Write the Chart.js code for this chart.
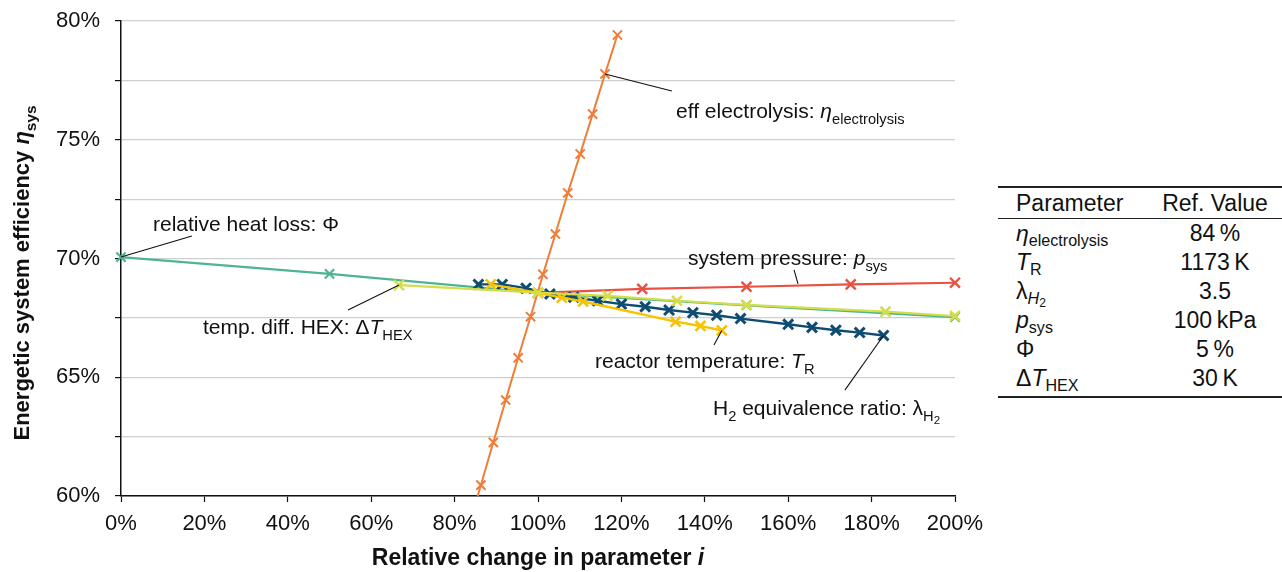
<!DOCTYPE html>
<html>
<head>
<meta charset="utf-8">
<script src="https://cdn.jsdelivr.net/npm/chart.js@4.4.1/dist/chart.umd.min.js"></script>
<style>
  html, body { margin: 0; padding: 0; background: #fff; }
  body { width: 1282px; height: 572px; position: relative; overflow: hidden; font-family: 'Liberation Sans', Arial, sans-serif; color: #111; }
  #wrap { position: absolute; left: 0; top: 0; width: 990px; height: 572px; }
  #ref { position: absolute; left: 998px; top: 186px; width: 284px; border-collapse: collapse; font-size: 23px;
         border-top: 2px solid #222; border-bottom: 2px solid #222; }
  #ref th { font-weight: normal; height: 30px; padding: 0; border-bottom: 1px solid #222; }
  #ref td { height: 29px; padding: 0; line-height: 29px; }
  #ref tr:last-child td { padding-bottom: 3px; }
  #ref .p { text-align: left; padding-left: 18px; width: 132px; }
  #ref .v { text-align: center; }
  #ref sub { font-size: 0.7em; vertical-align: -0.3em; line-height: 0; }
  #ref sub sub { font-size: 0.75em; vertical-align: -0.25em; }
</style>
</head>
<body>
<div id="wrap"><canvas id="chart"></canvas></div>
<table id="ref"></table>
<script>
// values (x: relative change in %, y: efficiency in %)
const effX = [83.33, 86.31, 89.29, 92.26, 95.24, 98.21, 101.19, 104.17, 107.14, 110.12, 113.10, 116.07, 119.05];
const effY = [58.68, 60.46, 62.26, 64.04, 65.82, 67.55, 69.33, 71.03, 72.76, 74.40, 76.08, 77.77, 79.41];

const tempX = [88.66, 100, 105.71, 110.83, 132.99, 138.96, 144.08];
const tempY = [68.91, 68.55, 68.35, 68.19, 67.34, 67.16, 66.97];

const lambdaX = [85.71, 91.43, 97.14, 102.86, 108.57, 114.29, 120, 125.71, 131.43, 137.14, 142.86, 148.57, 160, 165.71, 171.43, 177.14, 182.86];
const lambdaY = [68.91, 68.91, 68.75, 68.51, 68.37, 68.22, 68.08, 67.97, 67.83, 67.72, 67.61, 67.47, 67.23, 67.10, 66.98, 66.88, 66.76];

const pressX = [100, 125, 150, 175, 200];
const pressY = [68.55, 68.72, 68.81, 68.91, 68.98];

const lossX = [0, 50, 100, 150, 200];
const lossY = [70.06, 69.35, 68.55, 68.03, 67.53];

const hexX = [66.67, 100, 116.67, 133.33, 150, 183.33, 200];
const hexY = [68.88, 68.56, 68.43, 68.22, 68.05, 67.76, 67.58];

// reference table
const tableParams = ['<i>η</i><sub>electrolysis</sub>', '<i>T</i><sub>R</sub>', 'λ<sub><i>H</i><sub>2</sub></sub>',
                     '<i>p</i><sub>sys</sub>', 'Φ', 'Δ<i>T</i><sub>HEX</sub>'];
const tableValues = ['84\u2009%', '1173\u2009K', '3.5', '100\u2009kPa', '5\u2009%', '30\u2009K'];

const FAM = "'Liberation Sans', Arial, sans-serif";

const pts = (xs, ys) => xs.map((x, i) => ({ x: x, y: ys[i] }));

// table
let html = '<thead><tr><th class="p">Parameter</th><th class="v">Ref. Value</th></tr></thead><tbody>';
tableParams.forEach((p, i) => { html += `<tr><td class="p">${p}</td><td class="v">${tableValues[i]}</td></tr>`; });
document.getElementById('ref').innerHTML = html + '</tbody>';

// rich text: runs of [text, style] — style: '' normal, 'i' italic, 's' sub, 'si' italic sub, 'ss' sub-sub
function drawRich(ctx, runs, x, y, size, bold, align) {
  const fontOf = st => {
    const lvl = st.includes('ss') ? 2 : st.includes('s') ? 1 : 0;
    const s = size * [1, 0.7, 0.55][lvl];
    return { font: `${st.includes('i') ? 'italic ' : ''}${bold ? 'bold ' : ''}${s}px ${FAM}`, dy: [0, 0.3, 0.45][lvl] * size };
  };
  let w = 0;
  runs.forEach(r => { ctx.font = fontOf(r[1] || '').font; w += ctx.measureText(r[0]).width; });
  let cx = align === 'center' ? x - w / 2 : x;
  ctx.textAlign = 'left';
  ctx.textBaseline = 'alphabetic';
  runs.forEach(r => {
    const f = fontOf(r[1] || '');
    ctx.font = f.font;
    ctx.fillText(r[0], cx, y + f.dy);
    cx += ctx.measureText(r[0]).width;
  });
}

// callouts: dataset index + point index, leader end and text position in data units
const notes = [
  { ds: 1, pt: 11, end: [132.1, 77.05], at: [133.1, 75.92],
    runs: [['eff electrolysis: '], ['η', 'i'], ['electrolysis', 's']] },
  { ds: 5, pt: 0, end: [17.0, 70.95], at: [7.67, 71.15],
    runs: [['relative heat loss: Φ']] },
  { ds: 4, pt: null, from: [162.35, 68.93], end: [161.4, 69.52], at: [135.97, 69.73],
    runs: [['system pressure: '], ['p', 'i'], ['sys', 's']] },
  { ds: 0, pt: 0, end: [54.44, 67.83], at: [19.66, 66.82],
    runs: [['temp. diff. HEX: Δ'], ['T', 'i'], ['HEX', 's']] },
  { ds: 2, pt: 6, end: [142.2, 66.36], at: [113.67, 65.39],
    runs: [['reactor temperature: '], ['T', 'i'], ['R', 's']] },
  { ds: 3, pt: 16, end: [173.6, 64.46], at: [141.97, 63.41],
    runs: [['H'], ['2', 's'], [' equivalence ratio: λ'], ['H', 's'], ['2', 'ss']] }
];

const overlay = {
  id: 'overlay',
  afterDraw(chart) {
    const { ctx, scales: { x, y } } = chart;
    ctx.save();
    ctx.fillStyle = '#111';
    ctx.strokeStyle = '#111';
    ctx.lineWidth = 1.1;
    notes.forEach(n => {
      const from = n.pt === null ? n.from : [chart.data.datasets[n.ds].data[n.pt].x, chart.data.datasets[n.ds].data[n.pt].y];
      ctx.beginPath();
      ctx.moveTo(x.getPixelForValue(from[0]), y.getPixelForValue(from[1]));
      ctx.lineTo(x.getPixelForValue(n.end[0]), y.getPixelForValue(n.end[1]));
      ctx.stroke();
      drawRich(ctx, n.runs, x.getPixelForValue(n.at[0]), y.getPixelForValue(n.at[1]), 21, false, 'left');
    });

    // axis titles
    drawRich(ctx, [['Relative change in parameter '], ['i', 'i']], (x.left + x.right) / 2, 565, 23, true, 'center');
    ctx.translate(29, 273);
    ctx.rotate(-Math.PI / 2);
    drawRich(ctx, [['Energetic system efficiency '], ['η', 'i'], ['sys', 's']], 0, 0, 22, true, 'center');
    ctx.restore();
  }
};

const line = (label, data, color, width, radius, markW) => ({
  label: label,
  data: data,
  borderColor: color,
  backgroundColor: color,
  borderWidth: width,
  pointStyle: 'crossRot',
  pointRadius: radius,
  pointBorderWidth: markW,
  pointBorderColor: color,
  tension: 0,
  fill: false,
  clip: 10
});

const ds = [
  line('temp. diff. HEX', pts(hexX, hexY), '#D5DE48', 2.2, 7, 2.6),
  line('eff electrolysis', pts(effX, effY), '#EF7D36', 2, 6.5, 2),
  line('reactor temperature', pts(tempX, tempY), '#F7C300', 2.4, 7, 2.6),
  line('H2 equivalence ratio', pts(lambdaX, lambdaY), '#0F4C72', 2.4, 7, 3),
  line('system pressure', pts(pressX, pressY), '#E9503F', 2.2, 7, 2.4),
  line('relative heat loss', pts(lossX, lossY), '#4DB690', 2.2, 6.5, 2.2)
];
ds[1].clip = { left: 10, top: 10, right: 10, bottom: 0 };
ds[5].clip = false;

new Chart(document.getElementById('chart').getContext('2d'), {
  type: 'line',
  data: { datasets: ds },
  options: {
    responsive: true,
    maintainAspectRatio: false,
    animation: false,
    layout: { padding: { top: 21, right: 35, bottom: 0, left: 0 } },
    plugins: { legend: { display: false }, tooltip: { enabled: false } },
    scales: {
      x: {
        type: 'linear',
        min: 0,
        max: 200,
        afterFit: s => { s.height = 76; s.paddingLeft = 0; s.paddingRight = 0; },
        border: { color: '#111', width: 1.5 },
        grid: { drawOnChartArea: false, drawTicks: true, tickLength: 6, tickColor: '#111', tickWidth: 1.2 },
        ticks: {
          stepSize: 20,
          autoSkip: false,
          maxRotation: 0,
          padding: 9,
          color: '#111',
          font: { family: FAM, size: 22 },
          callback: v => v + '%'
        }
      },
      y: {
        type: 'linear',
        min: 60,
        max: 80,
        afterFit: s => { s.width = 121; s.paddingTop = 0; s.paddingBottom = 0; },
        border: { color: '#111', width: 1.5 },
        grid: { color: '#cfcfcf', lineWidth: 1.2, tickLength: 6, tickColor: '#111', tickWidth: 1.2 },
        ticks: {
          stepSize: 2.5,
          padding: 15,
          color: '#111',
          font: { family: FAM, size: 22 },
          callback: v => (v % 5 === 0 ? v + '%' : '')
        }
      }
    }
  },
  plugins: [overlay]
});
</script>
</body>
</html>
